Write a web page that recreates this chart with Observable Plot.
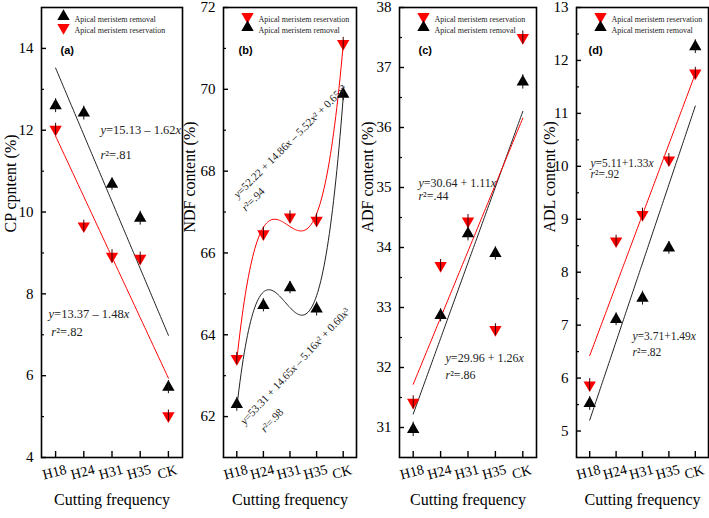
<!DOCTYPE html>
<html>
<head>
<meta charset="utf-8">
<script src="https://cdn.jsdelivr.net/npm/d3@7"></script>
<script src="https://cdn.jsdelivr.net/npm/@observablehq/plot@0.6"></script>
<style>
  html, body { margin: 0; padding: 0; background: #fff; overflow: hidden; }
  #fig { position: relative; width: 709px; height: 518px; background: #fff; }
  #fig svg { position: absolute; top: 0; background: transparent !important; overflow: visible; }
  #fig svg text { font-family: "Liberation Serif", "Times New Roman", serif; }
</style>
</head>
<body>
<div id="fig"></div>
<script>
// Cutting treatments on the x axis
const cuttingFrequency = ["H18", "H24", "H31", "H35", "CK"];
const removalLabel = "Apical meristem removal";
const reservationLabel = "Apical meristem reservation";
const xTitle = "Cutting frequency";

// (a) crude protein
const cpRemoval = [12.6, 12.42, 10.68, 9.85, 5.72];
const cpReservation = [12.02, 9.66, 8.92, 8.87, 5.02];
const cpRemovalSd = [0.17, 0.17, 0.15, 0.17, 0.16];
const cpReservationSd = [0.15, 0.14, 0.16, 0.15, 0.14];
const cpTicks = [4, 6, 8, 10, 12, 14];
const cpMinor = [5, 7, 9, 11, 13];

// (b) neutral detergent fibre
const ndfRemoval = [62.3, 64.72, 65.15, 64.63, 69.88];
const ndfReservation = [63.42, 66.47, 66.88, 66.8, 71.12];
const ndfRemovalSd = [0.17, 0.16, 0.15, 0.17, 0.16];
const ndfReservationSd = [0.15, 0.16, 0.15, 0.16, 0.15];
const ndfTicks = [62, 64, 66, 68, 70, 72];
const ndfMinor = [63, 65, 67, 69, 71];

// (c) acid detergent fibre
const adfRemoval = [30.97, 32.87, 34.23, 33.9, 36.76];
const adfReservation = [31.42, 33.7, 34.44, 32.63, 37.5];
const adfRemovalSd = [0.12, 0.11, 0.12, 0.11, 0.12];
const adfReservationSd = [0.11, 0.1, 0.11, 0.1, 0.11];
const adfTicks = [31, 32, 33, 34, 35, 36, 37, 38];
const adfMinor = [31.5, 32.5, 33.5, 34.5, 35.5, 36.5, 37.5];

// (d) acid detergent lignin
const adlRemoval = [5.52, 7.11, 7.51, 8.46, 12.26];
const adlReservation = [5.87, 8.59, 9.09, 10.12, 11.76];
const adlRemovalSd = [0.13, 0.12, 0.13, 0.12, 0.13];
const adlReservationSd = [0.12, 0.11, 0.12, 0.12, 0.11];
const adlTicks = [5, 6, 7, 8, 9, 10, 11, 12, 13];
const adlMinor = [5.5, 6.5, 7.5, 8.5, 9.5, 10.5, 11.5, 12.5];

// Fitted equations as printed
const cpEquations = ["y=15.13 – 1.62x", "r²=.81", "y=13.37 – 1.48x", "r²=.82"];
const ndfEquations = ["y=52.22 + 14.86x – 5.52x² + 0.65x³", "r²=.94", "y=53.31 + 14.65x – 5.16x² + 0.60x³", "r²=.98"];
const adfEquations = ["y=30.64 + 1.11x", "r²=.44", "y=29.96 + 1.26x", "r²=.86"];
const adlEquations = ["y=5.11+1.33x", "r²=.92", "y=3.71+1.49x", "r²=.82"];

const RED = "#ff0000";
const SERIF = "Liberation Serif";

// Triangle symbols (up for removal, down for reservation)
const SQ3 = Math.sqrt(3);
const triUp = {draw(ctx, size) {
  const y = -Math.sqrt(size / (SQ3 * 3));
  ctx.moveTo(0, y * 2); ctx.lineTo(-SQ3 * y, -y); ctx.lineTo(SQ3 * y, -y); ctx.closePath();
}};
const triDown = {draw(ctx, size) {
  const y = -Math.sqrt(size / (SQ3 * 3));
  ctx.moveTo(0, -y * 2); ctx.lineTo(-SQ3 * y, y); ctx.lineTo(SQ3 * y, y); ctx.closePath();
}};

// Least-squares polynomial coefficients (constant term first)
function polyfit(xs, ys, degree) {
  const n = degree + 1;
  const A = Array.from({length: n}, () => new Array(n + 1).fill(0));
  for (let r = 0; r < n; r++) {
    for (let c = 0; c < n; c++) A[r][c] = d3.sum(xs, x => x ** (r + c));
    A[r][n] = d3.sum(xs, (x, k) => ys[k] * x ** r);
  }
  for (let c = 0; c < n; c++) {
    let p = c;
    for (let r = c + 1; r < n; r++) if (Math.abs(A[r][c]) > Math.abs(A[p][c])) p = r;
    [A[c], A[p]] = [A[p], A[c]];
    for (let r = 0; r < n; r++) {
      if (r === c) continue;
      const f = A[r][c] / A[c][c];
      for (let k = c; k <= n; k++) A[r][k] -= f * A[c][k];
    }
  }
  return A.map((row, i) => row[n] / row[i]);
}

// Italic variables in the equation labels; sans-serif bold panel tags
function styleTexts(svg) {
  d3.select(svg).selectAll("text").each(function () {
    const s = this.textContent;
    const el = d3.select(this);
    if (/^\([a-d]\)$/.test(s)) {
      el.style("font-family", "'Liberation Sans', Arial, sans-serif");
      return;
    }
    if (!/^(y=|r²=)/.test(s)) return;
    el.text(null);
    s.split(/([xyr])/).forEach(part => {
      if (!part) return;
      const t = el.append("tspan").text(part);
      if (/^[xyr]$/.test(part)) t.attr("font-style", "italic");
    });
  });
}

function panel(cfg) {
  const rows = cuttingFrequency.map((name, i) => ({
    name, x: i + 1,
    rem: cfg.removal[i], res: cfg.reservation[i],
    sdRem: cfg.removalSd[i], sdRes: cfg.reservationSd[i]
  }));
  const xs = rows.map(d => d.x);
  const fitCurve = ys => {
    const c = polyfit(xs, ys, cfg.degree);
    return d3.range(1, 5.0001, 0.04).map(x => ({x, y: d3.sum(c, (b, k) => b * x ** k)}));
  };

  const legendMarks = cfg.legendOrder.flatMap((key, j) => {
    const dy = j === 0 ? 9 : 20;
    return [
      Plot.dot([key], {frameAnchor: "top-left", dx: cfg.legendDx, dy, symbol: key === "rem" ? triUp : triDown, r: 4.6, fill: key === "rem" ? "black" : RED}),
      Plot.text([key === "rem" ? removalLabel : reservationLabel], {frameAnchor: "top-left", dx: cfg.legendDx + 11, dy, textAnchor: "start", fontSize: 8, fill: "#222"})
    ];
  });

  const marks = [
    Plot.frame({stroke: "black", strokeWidth: 1.6}),
    Plot.axisY(cfg.ticks, {anchor: "left", tickSize: -5, tickPadding: 13, tickFormat: d => String(d), label: null, fontSize: 15, strokeWidth: 1.4}),
    Plot.axisY(cfg.minor, {anchor: "left", tickSize: -3, tickFormat: () => "", label: null, strokeWidth: 1.2}),
    Plot.axisX(xs, {anchor: "bottom", tickSize: -6, tickFormat: () => "", label: null, strokeWidth: 1.4}),
    Plot.text(cuttingFrequency, {x: (d, i) => i + 1, frameAnchor: "bottom", dy: 19, rotate: -15, fontSize: 14}),
    Plot.text([xTitle], {frameAnchor: "bottom", dy: 47, fontSize: 16}),
    Plot.text([cfg.yLabel], {frameAnchor: "left", dx: cfg.yLabelDx, rotate: -90, fontSize: 16}),
    Plot.line(fitCurve(cfg.removal), {x: "x", y: "y", stroke: "#222", strokeWidth: 1}),
    Plot.line(fitCurve(cfg.reservation), {x: "x", y: "y", stroke: RED, strokeWidth: 1}),
    Plot.dot(rows, {x: "x", y: "rem", symbol: triUp, r: 4.6, fill: "black"}),
    Plot.dot(rows, {x: "x", y: "res", symbol: triDown, r: 4.6, fill: RED}),
    Plot.ruleX(rows, {x: "x", y1: d => d.rem - d.sdRem, y2: d => d.rem + d.sdRem, stroke: "#111", strokeWidth: 1}),
    Plot.ruleX(rows, {x: "x", y1: d => d.res - d.sdRes, y2: d => d.res + d.sdRes, stroke: "#3a0000", strokeWidth: 1}),
    ...legendMarks,
    Plot.text([cfg.tag], {frameAnchor: "top-left", dx: cfg.tagDx, dy: 39, textAnchor: "start", fontSize: 11, fontWeight: "bold"}),
    ...cfg.notes.map(n => Plot.text([n.text], {x: () => n.x, y: () => n.y, rotate: n.rotate || 0, textAnchor: "start", fontSize: n.size, fill: "#222"}))
  ];

  const svg = Plot.plot({
    width: 41 + cfg.frameWidth + 2,
    height: 518,
    marginLeft: 41, marginRight: 2, marginTop: 7, marginBottom: 61,
    x: {domain: [0.5, 5.5], axis: null},
    y: {domain: cfg.yDomain, axis: null},
    style: {fontFamily: SERIF, color: "black", background: "transparent", overflow: "visible"},
    marks
  });
  svg.style.left = cfg.left + "px";
  styleTexts(svg);
  document.getElementById("fig").appendChild(svg);
}

panel({
  left: 0, frameWidth: 141, yDomain: [4, 15], ticks: cpTicks, minor: cpMinor,
  yLabel: "CP cpntent (%)", yLabelDx: -31, tag: "(a)", tagDx: 19, legendDx: 22,
  removal: cpRemoval, reservation: cpReservation, removalSd: cpRemovalSd, reservationSd: cpReservationSd,
  degree: 1, legendOrder: ["rem", "res"],
  notes: [
    {text: cpEquations[0], x: 2.59, y: 12.0, size: 12.5},
    {text: cpEquations[1], x: 2.59, y: 11.4, size: 12.5},
    {text: cpEquations[2], x: 0.75, y: 7.5, size: 12.5},
    {text: cpEquations[3], x: 0.85, y: 7.07, size: 12.5}
  ]
});

panel({
  left: 182, frameWidth: 133, yDomain: [61, 72], ticks: ndfTicks, minor: ndfMinor,
  yLabel: "NDF content (%)", yLabelDx: -34, tag: "(b)", tagDx: 15, legendDx: 24,
  removal: ndfRemoval, reservation: ndfReservation, removalSd: ndfRemovalSd, reservationSd: ndfReservationSd,
  degree: 3, legendOrder: ["res", "rem"],
  notes: [
    {text: ndfEquations[0], x: 0.95, y: 67.39, rotate: -45, size: 11},
    {text: ndfEquations[1], x: 1.25, y: 67.07, rotate: -45, size: 11},
    {text: ndfEquations[2], x: 1.21, y: 61.85, rotate: -47, size: 11},
    {text: ndfEquations[3], x: 1.97, y: 61.66, rotate: -47, size: 11}
  ]
});

panel({
  left: 358, frameWidth: 137, yDomain: [30.5, 38], ticks: adfTicks, minor: adfMinor,
  yLabel: "ADF content (%)", yLabelDx: -32, tag: "(c)", tagDx: 19, legendDx: 24,
  removal: adfRemoval, reservation: adfReservation, removalSd: adfRemovalSd, reservationSd: adfReservationSd,
  degree: 1, legendOrder: ["res", "rem"],
  notes: [
    {text: adfEquations[0], x: 1.19, y: 35.08, size: 12},
    {text: adfEquations[1], x: 1.19, y: 34.86, size: 12},
    {text: adfEquations[2], x: 2.18, y: 32.15, size: 12},
    {text: adfEquations[3], x: 2.18, y: 31.87, size: 12}
  ]
});

panel({
  left: 535, frameWidth: 132, yDomain: [4.5, 13], ticks: adlTicks, minor: adlMinor,
  yLabel: "ADL content (%)", yLabelDx: -27, tag: "(d)", tagDx: 12, legendDx: 24,
  removal: adlRemoval, reservation: adlReservation, removalSd: adlRemovalSd, reservationSd: adlReservationSd,
  degree: 1, legendOrder: ["res", "rem"],
  notes: [
    {text: adlEquations[0], x: 1.03, y: 10.05, size: 11.5},
    {text: adlEquations[1], x: 1.03, y: 9.85, size: 11.5},
    {text: adlEquations[2], x: 2.62, y: 6.78, size: 11.5},
    {text: adlEquations[3], x: 2.62, y: 6.48, size: 11.5}
  ]
});
</script>
</body>
</html>
